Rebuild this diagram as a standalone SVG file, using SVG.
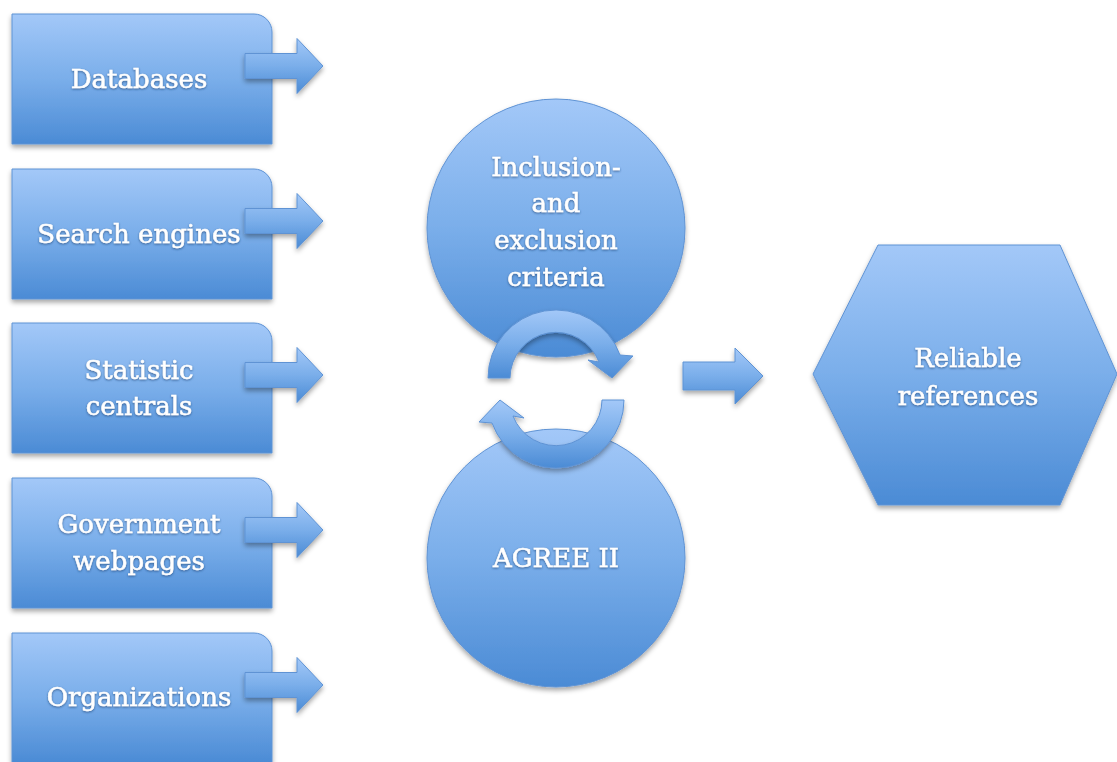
<svg xmlns="http://www.w3.org/2000/svg" width="1117" height="762" viewBox="0 0 1117 762">
  <defs>
    <linearGradient id="blueFill" x1="0" y1="0" x2="0" y2="1">
      <stop offset="0" stop-color="#a3c8f8"/>
      <stop offset="0.5" stop-color="#7aaeea"/>
      <stop offset="1" stop-color="#4b8bd5"/>
    </linearGradient>
    <filter id="shadow" x="-10%" y="-10%" width="120%" height="130%">
      <feDropShadow dx="0" dy="3" stdDeviation="2.5" flood-color="#000" flood-opacity="0.35"/>
    </filter>
    <filter id="textShadow" x="-10%" y="-20%" width="120%" height="150%">
      <feDropShadow dx="0" dy="1" stdDeviation="1" flood-color="#1d3f6e" flood-opacity="0.7"/>
    </filter>
    <!-- block arrow leaving each source box -->
    <path id="sideArrow" d="M0 -12.5 H52 V-27.5 L78 0 L52 27.5 V12.5 H0 Z"/>
    <!-- source box with rounded top-right corner -->
    <path id="sourceBox" d="M0 0 H242 A18 18 0 0 1 260 18 V130 H0 Z"/>
  </defs>
  <style>
    .shape { fill: url(#blueFill); stroke: #5f93d4; stroke-width: 1; filter: url(#shadow); }
    .label { font-family: "DejaVu Serif", "Liberation Serif", serif; font-size: 26px; fill: #ffffff; stroke: #ffffff; stroke-width: 0.5; text-anchor: middle; filter: url(#textShadow); }
  </style>
  <rect width="1117" height="762" fill="#ffffff"/>

  <!-- Source boxes -->
  <g id="databases">
    <use href="#sourceBox" class="shape" x="12" y="14"/>
    <text class="label" x="139" y="88">Databases</text>
  </g>
  <g id="search-engines">
    <use href="#sourceBox" class="shape" x="12" y="169"/>
    <text class="label" x="139" y="243">Search engines</text>
  </g>
  <g id="statistic-centrals">
    <use href="#sourceBox" class="shape" x="12" y="323"/>
    <text class="label" x="139" y="379">Statistic</text>
    <text class="label" x="139" y="415">centrals</text>
  </g>
  <g id="government-webpages">
    <use href="#sourceBox" class="shape" x="12" y="478"/>
    <text class="label" x="139" y="533">Government</text>
    <text class="label" x="139" y="570">webpages</text>
  </g>
  <g id="organizations">
    <use href="#sourceBox" class="shape" x="12" y="633"/>
    <text class="label" x="139" y="706">Organizations</text>
  </g>

  <!-- Review circles -->
  <g id="inclusion-exclusion">
    <circle class="shape" cx="556" cy="228" r="129"/>
    <text class="label" x="556" y="176">Inclusion-</text>
    <text class="label" x="556" y="212">and</text>
    <text class="label" x="556" y="249">exclusion</text>
    <text class="label" x="556" y="286">criteria</text>
  </g>
  <g id="agree-ii">
    <circle class="shape" cx="556" cy="558" r="129"/>
    <text class="label" x="556" y="567">AGREE II</text>
  </g>

  <!-- Result hexagon -->
  <g id="reliable-references">
    <polygon class="shape" points="813,374 878,245 1060,245 1117,374 1060,505 878,505"/>
    <text class="label" x="968" y="367">Reliable</text>
    <text class="label" x="968" y="405">references</text>
  </g>

  <!-- Connectors -->
  <g id="connectors">
    <use href="#sideArrow" class="shape" x="245" y="66"/>
    <use href="#sideArrow" class="shape" x="245" y="221"/>
    <use href="#sideArrow" class="shape" x="245" y="375"/>
    <use href="#sideArrow" class="shape" x="245" y="530"/>
    <use href="#sideArrow" class="shape" x="245" y="685"/>
    <!-- cycle between the two review steps -->
    <path class="shape" d="M488 378 A68 68 0 0 1 620 355 L633 356 L612 378 L588 360 L599 362 A46 46 0 0 0 510 378 Z"/>
    <path class="shape" d="M624 400 A68 68 0 0 1 492 423 L479 422 L500 400 L524 418 L513 416 A46 46 0 0 0 602 400 Z"/>
    <!-- towards the result -->
    <path class="shape" d="M683 362 H735 V348 L763 376 L735 404 V390 H683 Z"/>
  </g>
</svg>
